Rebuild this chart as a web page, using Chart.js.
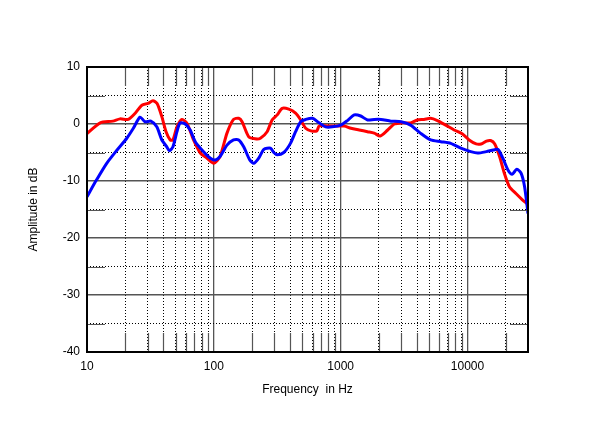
<!DOCTYPE html>
<html>
<head>
<meta charset="utf-8">
<script src="https://cdn.jsdelivr.net/npm/chart.js@4.4.0/dist/chart.umd.min.js"></script>
<style>
  html, body { margin: 0; padding: 0; background: #fff; }
  #grafico { display: block; }
</style>
</head>
<body>
<canvas id="grafico" width="600" height="423"></canvas>
<script>
// Datos (Hz / dB)
const freqRojo = [10, 12.7, 16, 18.2, 21.1, 24, 27.1, 30.3, 33.1, 35.7, 38.9, 42, 45.3, 47.6, 51.2, 56.1, 61.5, 69.2, 78.3, 88.4,
  100, 112, 127, 143, 157, 167, 188, 212, 233, 263, 288, 316, 346, 390, 441, 484, 530, 582, 649, 677,
  787, 945, 1067, 1205, 1400, 1628, 1838, 2050, 2350, 2650, 3100, 3560, 4020, 4540, 5120, 5790, 6740, 7840, 9130, 10300,
  11700, 12800, 14100, 15200, 16400, 17900, 19500, 21400, 24100, 27100, 30000];
const dbRojo = [-1.7, 0.2, 0.5, 0.9, 0.8, 1.9, 3.3, 3.6, 4.1, 3.6, 1.3, -1.35, -2.8, -2.8, -0.5, 0.8, 0.1, -2.8, -5.1, -6.0,
  -6.9, -5.7, -1.6, 0.8, 1.0, 0.4, -2.2, -2.6, -2.5, -1.35, 0.7, 1.6, 2.75, 2.6, 1.9, 0.7, -0.75, -1.2, -1.2, -0.35,
  -0.35, -0.35, -0.35, -0.75, -1.05, -1.35, -1.6, -2.1, -1.05, 0, 0.2, 0.2, 0.7, 0.8, 1.0, 0.6, -0.2, -1.05, -1.75, -2.8,
  -3.5, -3.5, -3.0, -2.9, -3.5, -5.7, -8.6, -11.0, -12.2, -13.3, -14.1];

const freqAzul = [10, 11.9, 14.3, 17.2, 20.6, 23.2, 26.2, 28.7, 31.9, 35.5, 38.9, 42.6, 44.6, 47.6, 51.2, 54.2, 59.5, 65.1, 71.4, 83,
  94, 103, 112, 127, 143, 157, 172, 192, 207, 226, 248, 280, 297, 316, 356, 402, 441, 484, 530, 600,
  677, 760, 860, 1000, 1130, 1280, 1440, 1630, 1840, 2080, 2490, 3000, 3560, 4250, 5120, 6160, 7380, 8860, 10600, 12000,
  14100, 16000, 17400, 19000, 20900, 22500, 24500, 26500, 28200, 30000];
const dbAzul = [-12.75, -9.8, -6.9, -4.6, -2.5, -0.75, 1.2, 0.4, 0.5, -0.5, -2.8, -4.0, -4.7, -4.0, -1.35, 0.2, 0, -1.05, -3.1, -4.85,
  -6.0, -6.3, -5.7, -3.7, -2.8, -2.8, -4.0, -6.3, -6.9, -6.0, -4.45, -4.25, -5.0, -5.4, -5.0, -3.4, -1.35, 0.4, 0.8, 1.0,
  0.2, -0.5, -0.5, -0.2, 0.6, 1.6, 1.4, 0.7, 0.8, 0.8, 0.5, 0.4, -0.2, -1.6, -2.8, -3.1, -3.4, -4.25, -4.85, -5.1,
  -4.85, -4.55, -4.45, -6.0, -8.1, -8.8, -7.95, -8.65, -11.0, -15.7];

// Marcas de los ejes
const ticksXMayor = [10, 100, 1000, 10000];
const ticksXMenor = [20, 30, 40, 50, 60, 70, 80, 90, 200, 300, 400, 500, 600, 700, 800, 900,
  2000, 3000, 4000, 5000, 6000, 7000, 8000, 9000, 20000];
const ticksYMayor = [-40, -30, -20, -10, 0, 10];
const ticksYMenor = [-35, -25, -15, -5, 5];

const fuente = { family: "'Liberation Sans', Arial, sans-serif", size: 12 };
const colorMayor = '#555';

const puntos = (xs, ys) => xs.map((x, i) => ({ x: x, y: ys[i] }));
const fijarTicks = (valores) => (scale) => { scale.ticks = valores.map(v => ({ value: v })); };

// Marco y marcas cortas sólidas en los bordes
const marco = {
  id: 'marco',
  afterDatasetsDraw(chart) {
    const { ctx, chartArea: { left, right, top, bottom }, scales } = chart;
    ctx.save();
    ctx.strokeStyle = colorMayor;
    ctx.lineWidth = 1.2;
    ctx.beginPath();
    ticksXMenor.forEach(v => {
      const px = Math.round(scales.x.getPixelForValue(v)) + 0.5;
      ctx.moveTo(px, top); ctx.lineTo(px, top + 19);
      ctx.moveTo(px, bottom); ctx.lineTo(px, bottom - 19);
    });
    ticksYMenor.forEach(v => {
      const py = Math.round(scales.y.getPixelForValue(v)) + 0.5;
      ctx.moveTo(left, py); ctx.lineTo(left + 18, py);
      ctx.moveTo(right, py); ctx.lineTo(right - 18, py);
    });
    ctx.stroke();
    ctx.strokeStyle = '#000';
    ctx.lineWidth = 2;
    ctx.strokeRect(left, top, right - left, bottom - top);
    ctx.restore();
  }
};

new Chart(document.getElementById('grafico').getContext('2d'), {
  type: 'line',
  data: {
    datasets: [
      {
        label: 'Rojo',
        data: puntos(freqRojo, dbRojo),
        borderColor: '#ff0000',
        borderWidth: 3,
        pointRadius: 0,
        tension: 0.25,
        fill: false,
        order: 2
      },
      {
        label: 'Azul',
        data: puntos(freqAzul, dbAzul),
        borderColor: '#0000ff',
        borderWidth: 3,
        pointRadius: 0,
        tension: 0.25,
        fill: false,
        order: 1
      }
    ]
  },
  options: {
    responsive: false,
    animation: false,
    parsing: true,
    layout: { padding: { left: 0, top: 67, right: 72, bottom: 0 } },
    plugins: {
      legend: { display: false },
      tooltip: { enabled: false }
    },
    scales: {
      x: {
        type: 'logarithmic',
        position: 'bottom',
        min: 10,
        max: 30000,
        afterBuildTicks: fijarTicks(ticksXMayor),
        afterFit: (s) => { s.height = 71; },
        ticks: {
          color: '#000',
          font: fuente,
          padding: 7,
          maxRotation: 0,
          autoSkip: false,
          callback: (v) => String(v)
        },
        grid: { color: colorMayor, lineWidth: 1.3, drawTicks: false },
        border: { display: false },
        title: {
          display: true,
          text: 'Frequency  in Hz',
          color: '#000',
          font: fuente,
          padding: { top: 0, bottom: 26 }
        }
      },
      x2: {
        type: 'logarithmic',
        position: 'bottom',
        min: 10,
        max: 30000,
        afterBuildTicks: fijarTicks(ticksXMenor),
        afterFit: (s) => { s.height = 0; },
        ticks: { display: false },
        grid: { color: '#000', lineWidth: 1, drawTicks: false },
        border: { display: false, dash: [1, 2] }
      },
      y: {
        type: 'linear',
        position: 'left',
        min: -40,
        max: 10,
        afterBuildTicks: fijarTicks(ticksYMayor),
        afterFit: (s) => { s.width = 87; },
        ticks: { color: '#000', font: fuente, padding: 7 },
        grid: { color: colorMayor, lineWidth: 1.5, drawTicks: false },
        border: { display: false },
        title: {
          display: true,
          text: 'Amplitude in dB',
          color: '#000',
          font: fuente,
          padding: { top: 26, bottom: 0 }
        }
      },
      y2: {
        type: 'linear',
        position: 'left',
        min: -40,
        max: 10,
        afterBuildTicks: fijarTicks(ticksYMenor),
        afterFit: (s) => { s.width = 0; },
        ticks: { display: false },
        grid: { color: '#000', lineWidth: 1, drawTicks: false },
        border: { display: false, dash: [1, 2] }
      }
    }
  },
  plugins: [marco]
});
</script>
</body>
</html>
